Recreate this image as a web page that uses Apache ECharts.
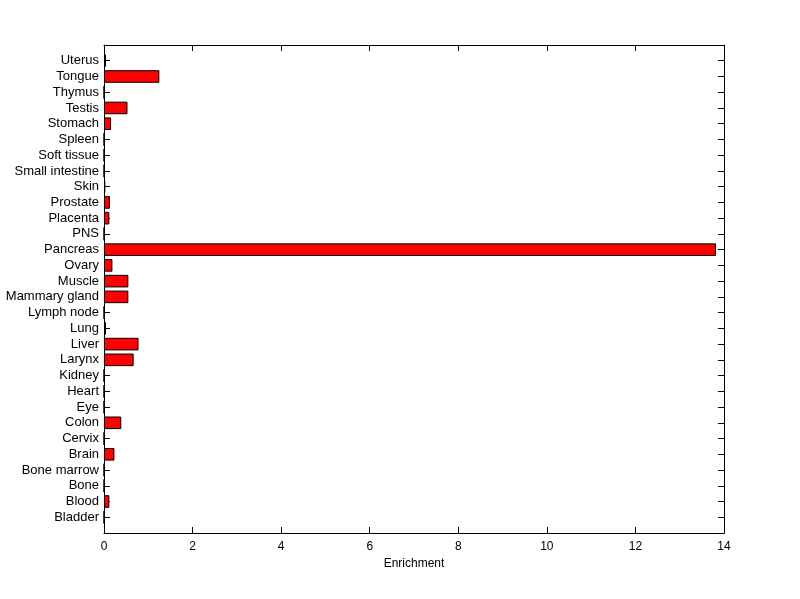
<!DOCTYPE html>
<html>
<head>
<meta charset="utf-8">
<script src="https://cdn.jsdelivr.net/npm/echarts@6/dist/echarts.min.js"></script>
<style>
html,body{margin:0;padding:0;background:#fff;}
#chart{width:800px;height:599px;}
</style>
</head>
<body>
<div id="chart"></div>
<script>
// Categories from bottom to top
const categories = ["Bladder","Blood","Bone","Bone marrow","Brain","Cervix","Colon","Eye","Heart","Kidney","Larynx","Liver","Lung","Lymph node","Mammary gland","Muscle","Ovary","Pancreas","PNS","Placenta","Prostate","Skin","Small intestine","Soft tissue","Spleen","Stomach","Testis","Thymus","Tongue","Uterus"];
const enrichment = [0,0.12,0,0,0.235,0,0.39,0,0,0,0.67,0.78,0.045,0,0.55,0.55,0.19,13.82,0,0.12,0.135,0.03,0,0,0,0.16,0.53,0,1.25,0.045];
const xTicks = [0,2,4,6,8,10,12,14];

const axisData = [""].concat(categories).concat([""]);
const seriesData = [null].concat(enrichment).concat([null]);
const font = "Liberation Sans, Arial, sans-serif";
const line = {show: true, onZero: false, lineStyle: {color: '#000', width: 1}};
const tick = {show: true, inside: true, length: 6, lineStyle: {color: '#000', width: 1}};

const chart = echarts.init(document.getElementById('chart'), null, {renderer:'canvas'});
chart.setOption({
  backgroundColor: '#ffffff',
  animation: false,
  grid: {left: 104, right: 76, top: 45, bottom: 66, containLabel: false},
  xAxis: [{
    type: 'value', position: 'bottom', min: xTicks[0], max: xTicks[xTicks.length-1], interval: 2,
    name: 'Enrichment', nameLocation: 'middle', nameGap: 23,
    nameTextStyle: {color: '#000', fontSize: 12, fontFamily: font},
    axisLine: line, axisTick: tick,
    axisLabel: {color: '#000', fontSize: 12, fontFamily: font, margin: 8},
    splitLine: {show: false}
  }, {
    type: 'value', position: 'top', min: xTicks[0], max: xTicks[xTicks.length-1], interval: 2,
    axisLine: line, axisTick: tick,
    axisLabel: {show: false},
    splitLine: {show: false}
  }],
  yAxis: [{
    type: 'category', position: 'left', data: axisData, boundaryGap: false,
    axisLine: line, axisTick: Object.assign({interval: 0}, tick),
    axisLabel: {color: '#000', fontSize: 13, fontFamily: font, margin: 5, interval: 0},
    splitLine: {show: false}
  }, {
    type: 'category', position: 'right', data: axisData, boundaryGap: false,
    axisLine: line, axisTick: Object.assign({interval: 0}, tick),
    axisLabel: {show: false},
    splitLine: {show: false}
  }],
  series: [{
    type: 'bar',
    xAxisIndex: 0, yAxisIndex: 0,
    data: seriesData,
    barWidth: '80%',
    itemStyle: {color: '#ff0000', borderColor: '#000', borderWidth: 1}
  }]
});
</script>
</body>
</html>
